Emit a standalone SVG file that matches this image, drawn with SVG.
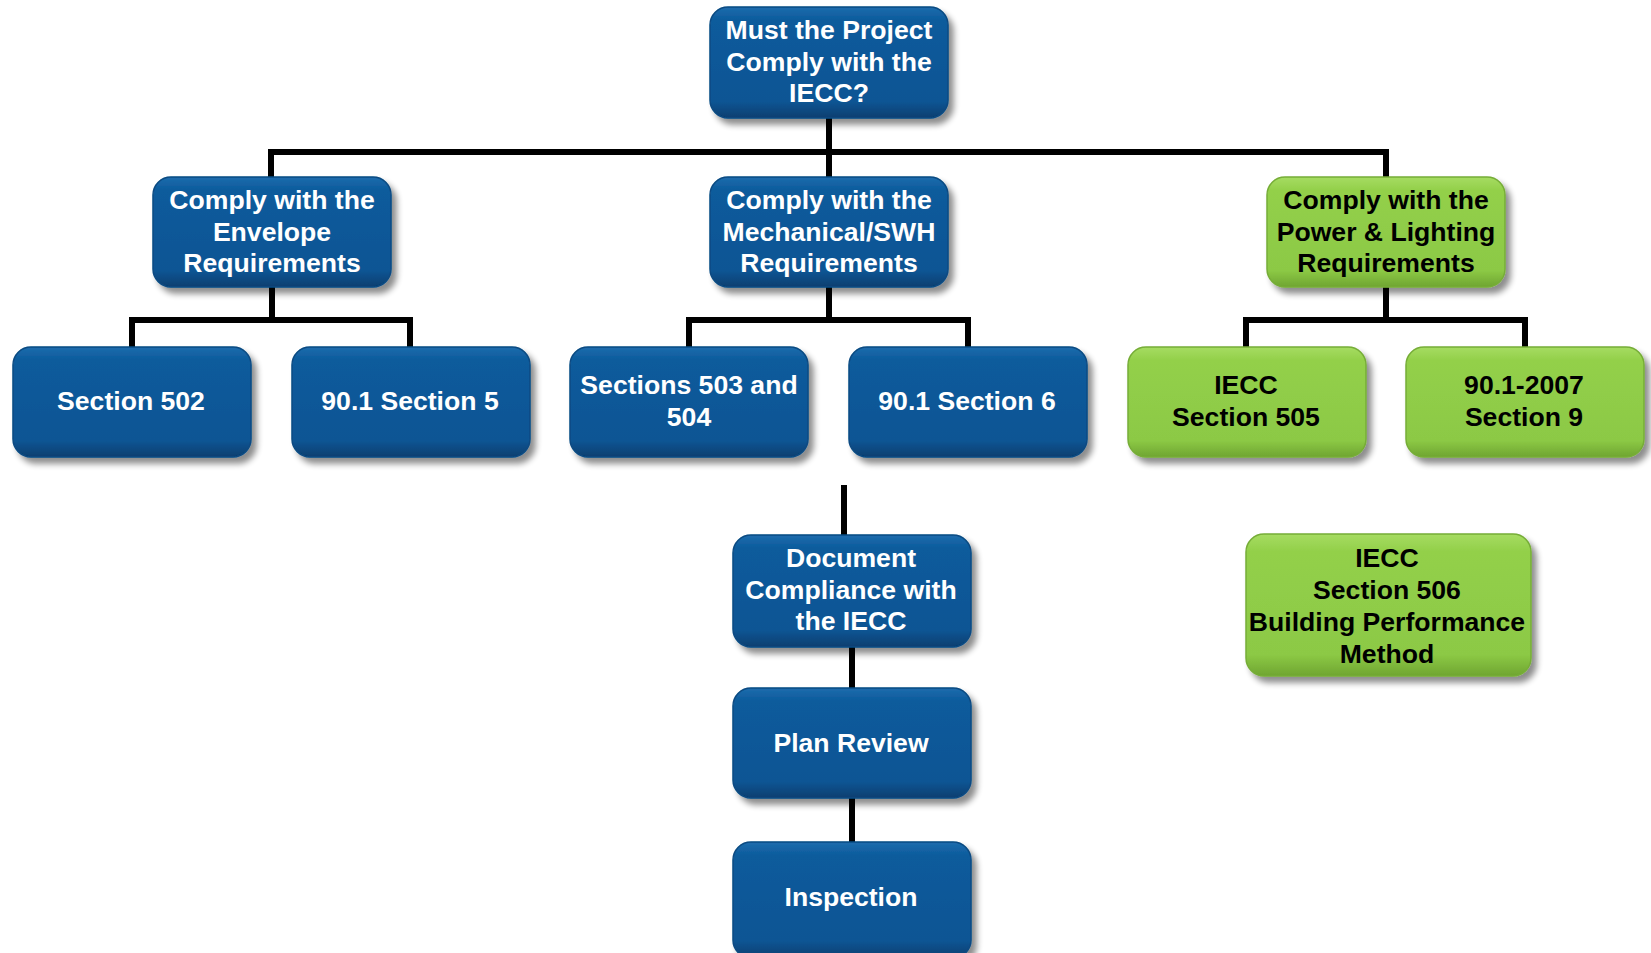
<svg xmlns="http://www.w3.org/2000/svg" width="1651" height="953" viewBox="0 0 1651 953">
<defs>
<linearGradient id="gBlue" x1="0" y1="0" x2="0" y2="1">
<stop offset="0" stop-color="#1d6cad"/>
<stop offset="0.12" stop-color="#0c5b9c"/>
<stop offset="0.85" stop-color="#0a5594"/>
<stop offset="1" stop-color="#073f70"/>
</linearGradient>
<linearGradient id="gGreen" x1="0" y1="0" x2="0" y2="1">
<stop offset="0" stop-color="#a6dc62"/>
<stop offset="0.12" stop-color="#93d04a"/>
<stop offset="0.85" stop-color="#8cc945"/>
<stop offset="1" stop-color="#6fa531"/>
</linearGradient>
<filter id="sh" x="-10%" y="-10%" width="125%" height="130%">
<feGaussianBlur in="SourceAlpha" stdDeviation="3"/>
<feOffset dx="5" dy="6" result="b"/>
<feComponentTransfer><feFuncA type="linear" slope="0.45"/></feComponentTransfer>
<feMerge><feMergeNode/><feMergeNode in="SourceGraphic"/></feMerge>
</filter>
</defs>
<style>
.b{fill:url(#gBlue);stroke:#084a82;stroke-width:1.5;filter:url(#sh)}
.g{fill:url(#gGreen);stroke:#76ad37;stroke-width:1.5;filter:url(#sh)}
.tw{font-family:"Liberation Sans",Arial,sans-serif;font-weight:bold;font-size:26.6px;fill:#ffffff;text-anchor:middle}
.tk{font-family:"Liberation Sans",Arial,sans-serif;font-weight:bold;font-size:26.6px;fill:#000000;text-anchor:middle}
.c{stroke:#000;stroke-width:6;fill:none;stroke-linecap:square}
</style>
<rect width="1651" height="953" fill="#ffffff"/>
<g id="connectors">
<path class="c" d="M829 118V177M271 152H1386M271 152V177M1386 152V177"/>
<path class="c" d="M272 287V320M132 320H410M132 320V346M410 320V346"/>
<path class="c" d="M829 287V320M689 320H968M689 320V346M968 320V346"/>
<path class="c" d="M1386 287V320M1246 320H1525M1246 320V346M1525 320V346"/>
<path class="c" d="M844 488V535"/>
<path class="c" d="M852 647V688M852 798V842"/>
</g>
<g id="n-top"><rect class="b" x="710" y="7" width="238" height="111" rx="18"/><text class="tw" x="829" y="39">Must the Project</text><text class="tw" x="829" y="70.5">Comply with the</text><text class="tw" x="829" y="102">IECC?</text></g>
<g id="n-env"><rect class="b" x="153" y="177" width="238" height="110" rx="18"/><text class="tw" x="272" y="209">Comply with the</text><text class="tw" x="272" y="240.5">Envelope</text><text class="tw" x="272" y="272">Requirements</text></g>
<g id="n-mech"><rect class="b" x="710" y="177" width="238" height="110" rx="18"/><text class="tw" x="829" y="209">Comply with the</text><text class="tw" x="829" y="240.5">Mechanical/SWH</text><text class="tw" x="829" y="272">Requirements</text></g>
<g id="n-power"><rect class="g" x="1267" y="177" width="238" height="110" rx="18"/><text class="tk" x="1386" y="209">Comply with the</text><text class="tk" x="1386" y="240.5">Power &amp; Lighting</text><text class="tk" x="1386" y="272">Requirements</text></g>
<g id="n-502"><rect class="b" x="13" y="347" width="238" height="110" rx="18"/><text class="tw" x="131" y="410">Section 502</text></g>
<g id="n-s5"><rect class="b" x="292" y="347" width="238" height="110" rx="18"/><text class="tw" x="410" y="410">90.1 Section 5</text></g>
<g id="n-503"><rect class="b" x="570" y="347" width="238" height="110" rx="18"/><text class="tw" x="689" y="394">Sections 503 and</text><text class="tw" x="689" y="426">504</text></g>
<g id="n-s6"><rect class="b" x="849" y="347" width="238" height="110" rx="18"/><text class="tw" x="967" y="410">90.1 Section 6</text></g>
<g id="n-505"><rect class="g" x="1128" y="347" width="238" height="110" rx="18"/><text class="tk" x="1246" y="394">IECC</text><text class="tk" x="1246" y="426">Section 505</text></g>
<g id="n-s9"><rect class="g" x="1406" y="347" width="238" height="110" rx="18"/><text class="tk" x="1524" y="394">90.1-2007</text><text class="tk" x="1524" y="426">Section 9</text></g>
<g id="n-doc"><rect class="b" x="733" y="535" width="238" height="112" rx="18"/><text class="tw" x="851" y="567">Document</text><text class="tw" x="851" y="598.5">Compliance with</text><text class="tw" x="851" y="630">the IECC</text></g>
<g id="n-plan"><rect class="b" x="733" y="688" width="238" height="110" rx="18"/><text class="tw" x="851" y="752">Plan Review</text></g>
<g id="n-insp"><rect class="b" x="733" y="842" width="238" height="116" rx="18"/><text class="tw" x="851" y="906">Inspection</text></g>
<g id="n-506"><rect class="g" x="1246" y="534" width="285" height="142" rx="18"/><text class="tk" x="1387" y="567">IECC</text><text class="tk" x="1387" y="599">Section 506</text><text class="tk" x="1387" y="631">Building Performance</text><text class="tk" x="1387" y="663">Method</text></g>
</svg>
